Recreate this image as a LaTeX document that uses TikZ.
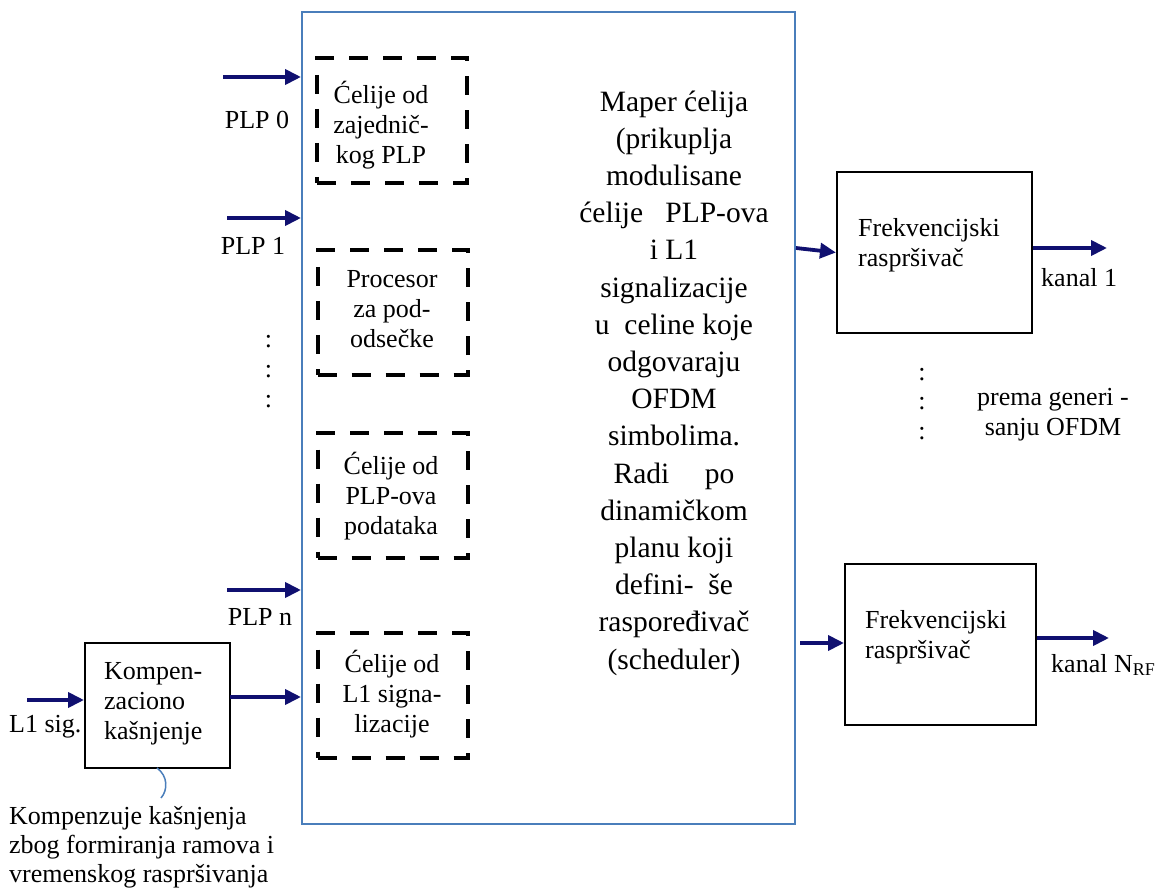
\documentclass[tikz,border=0pt]{standalone}
\usepackage{fontspec}
\setmainfont{Liberation Serif}
\usetikzlibrary{arrows.meta}
\definecolor{navy}{RGB}{16,16,112}
\definecolor{frameblue}{RGB}{74,126,187}
\tikzset{
  arr/.style={draw=navy,line width=3.8pt,-{Triangle[length=16pt,width=15pt]}},
  dbox/.style={draw=black,line width=4pt,dash pattern=on 19pt off 15pt,minimum width=150pt,minimum height=125pt,inner sep=0pt},
  sbox/.style={draw=black,line width=2pt,inner sep=0pt},
  small/.style={font=\fontsize{26}{30}\selectfont,inner sep=0pt},
}
\begin{document}
\begin{tikzpicture}[x=1pt,y=-1pt]
\useasboundingbox (0,0) rectangle (1162,893);
% main block
\node[draw=frameblue,line width=2pt,minimum width=493pt,minimum height=812pt,inner sep=0pt] (main) at (548.5,418) {};
\node[font=\fontsize{29.5}{37.2}\selectfont,align=center,inner sep=0pt] (maintext) at (674,383)
 {Maper ćelija\\(prikuplja\\modulisane\\ćelije~~ PLP-ova\\i L1\\signalizacije\\u~ celine koje\\odgovaraju\\OFDM\\simbolima.\\Radi\hspace{1.2em}po\\dinamičkom\\planu koji\\defini-~ še\\raspoređivač\\(scheduler)};
% dashed boxes
\node[dbox] (b1) at (392,120.5) {};
\node[small,align=center] (t1) at (381,125) {Ćelije od\\zajednič-\\kog PLP};
\node[dbox] (b2) at (392.5,312.5) {};
\node[small,align=center] (t2) at (392,309) {Procesor\\za pod-\\odsečke};
\node[dbox] (b3) at (392.5,495) {};
\node[small,align=center] (t3) at (391,496) {Ćelije od\\PLP-ova\\podataka};
\node[dbox] (b4) at (392.5,695) {};
\node[small,align=center] (t4) at (392,694) {Ćelije od\\L1 signa-\\lizacije};
% inputs
\coordinate (p0) at (223,77);
\coordinate (p1) at (227,218);
\coordinate (pn) at (227,590);
\draw[arr] (p0) -- (p0 -| main.west);
\draw[arr] (p1) -- (p1 -| main.west);
\draw[arr] (pn) -- (pn -| main.west);
\node[small] (lp0) at (257,120) {PLP 0};
\node[small] (lp1) at (253,246) {PLP 1};
\node[small] (lpn) at (260,617) {PLP n};
\node[small] (ld1) at (268.5,342) {:};
\node[small] (ld2) at (268.5,372) {:};
\node[small] (ld3) at (268.5,402) {:};
% compensation
\node[sbox,minimum width=145pt,minimum height=125pt] (komp) at (157.5,705.5) {};
\node[small,align=left,anchor=west] (ktext) at (104,704) {Kompen-\\zaciono\\kašnjenje};
\coordinate (l1in) at (27,700);
\draw[arr] (l1in) -- (l1in -| komp.west);
\node[small,anchor=west] (l1lab) at (9,727) {L1 sig.};
\coordinate (kout) at (230,697);
\draw[arr] (kout) -- (kout -| main.west);
\coordinate (cstart) at (157,768);
\coordinate (cend) at (161,798);
\draw[frameblue,line width=1.5pt] (cstart) .. controls (168,776) and (168,790) .. (cend);
\node[small,align=left,anchor=west,font=\fontsize{26}{29}\selectfont] (note) at (9,847) {Kompenzuje kašnjenja\\zbog formiranja ramova i\\vremenskog raspršivanja};
% frequency interleavers
\node[sbox,minimum width=195pt,minimum height=161pt] (f1) at (934.5,252.5) {};
\node[small,align=left,anchor=west] (f1t) at (858,245) {Frekvencijski\\raspršivač};
\node[sbox,minimum width=191pt,minimum height=161pt] (f2) at (940.5,644.5) {};
\node[small,align=left,anchor=west] (f2t) at (865,637) {Frekvencijski\\raspršivač};
\coordinate (f1in) at (796,248);
\draw[arr] (f1in) -- (f1.west);
\coordinate (f2in) at (800,643);
\draw[arr] (f2in) -- (f2in -| f2.west);
\coordinate (o1) at (1107,248);
\draw[arr] (o1 -| f1.east) -- (o1);
\coordinate (o2) at (1109,638);
\draw[arr] (o2 -| f2.east) -- (o2);
\node[small,anchor=west] (k1) at (1041,278) {kanal 1};
\node[small,anchor=west] (k2) at (1051,665) {kanal N\textsubscript{\fontsize{18}{20}\selectfont RF}};
\node[small] (rd1) at (922,375) {:};
\node[small] (rd2) at (922,404) {:};
\node[small] (rd3) at (922,434) {:};
\node[small,align=center] (prema) at (1053,415) {prema generi -\\sanju OFDM};
\end{tikzpicture}
\end{document}
